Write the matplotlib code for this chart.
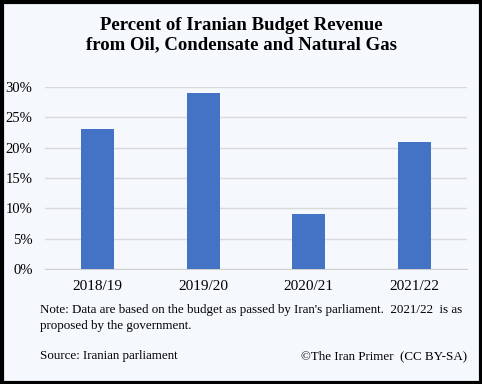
import matplotlib
matplotlib.use("Agg")
import matplotlib.pyplot as plt
from matplotlib.patches import Rectangle

categories = ["2018/19", "2019/20", "2020/21", "2021/22"]
values = [0.23, 0.29, 0.09, 0.21]
yticks = [0, 0.05, 0.10, 0.15, 0.20, 0.25, 0.30]
ytick_labels = ["0%", "5%", "10%", "15%", "20%", "25%", "30%"]

bg = "#F5F9FD"
W, H = 482, 384
fig = plt.figure(figsize=(W/100, H/100), dpi=100, facecolor=bg)
plt.rcParams['font.family'] = ['Liberation Serif', 'DejaVu Serif']

ax = fig.add_axes([45/W, 1-269/H, 422/W, (269-87)/H])
ax.set_facecolor(bg)
x = range(len(categories))
ax.bar(x, values, width=0.31, color="#4472C4", zorder=3)
ax.set_xlim(-0.5, len(categories)-0.5)
ax.set_ylim(0, 0.30)
ax.set_yticks(yticks)
ax.set_yticklabels(ytick_labels, fontsize=10.5)
ax.set_xticks(list(x))
ax.set_xticklabels(categories, fontsize=11)
ax.yaxis.grid(True, color="#D9D9D9", linewidth=1, zorder=0)
for s in ["top", "right", "left"]:
    ax.spines[s].set_visible(False)
ax.spines["bottom"].set_color("#D0D0D0")
ax.tick_params(axis="both", length=0, colors="black")
ax.tick_params(axis="y", pad=9)
ax.tick_params(axis="x", pad=8)
ax.set_axisbelow(True)

fig.text(0.5, 1-25/H, "Percent of Iranian Budget Revenue", ha="center", va="center",
         fontsize=13.5, fontweight="bold")
fig.text(0.5, 1-45/H, "from Oil, Condensate and Natural Gas", ha="center", va="center",
         fontsize=13.5, fontweight="bold")

fig.text(40/W, 1-310/H, "Note: Data are based on the budget as passed by Iran's parliament.  2021/22  is as",
         ha="left", va="center", fontsize=9.35)
fig.text(40/W, 1-326/H, "proposed by the government.", ha="left", va="center", fontsize=9.35)
fig.text(40/W, 1-356/H, "Source: Iranian parliament", ha="left", va="center", fontsize=9.35)
fig.text(467/W, 1-356/H, "\u00a9The Iran Primer  (CC BY-SA)", ha="right", va="center", fontsize=9.35)

fig.patches.append(Rectangle((1.5/W, 1.5/H), (W-3)/W, (H-3)/H, transform=fig.transFigure,
                             fill=False, edgecolor="black", linewidth=3))

fig.savefig("out.png", dpi=100, facecolor=bg)
